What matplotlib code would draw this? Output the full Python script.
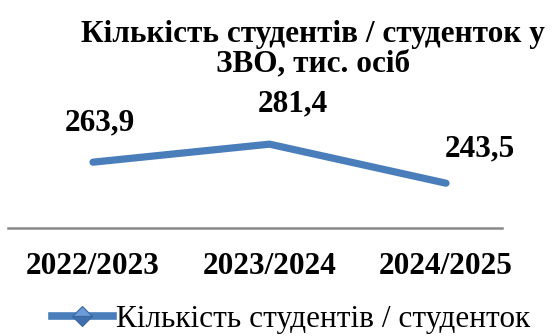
import matplotlib.pyplot as plt
from matplotlib.lines import Line2D

years = ["2022/2023", "2023/2024", "2024/2025"]
students = [263.9, 281.4, 243.5]
value_labels = ["263,9", "281,4", "243,5"]
series_name = "Кількість студентів / студенток"
title = "Кількість студентів / студенток у\nЗВО, тис. осіб"

plt.rcParams["font.family"] = ["Liberation Serif", "DejaVu Serif"]
blue = "#4a7ebb"
fs = 22.5

fig = plt.figure(figsize=(5.53, 3.36), dpi=100)
ax = fig.add_axes([8 / 553, 108 / 336, 494 / 553, 128 / 336])

x = list(range(len(years)))
ax.plot(x, students, color=blue, linewidth=5.2, solid_capstyle="round",
        solid_joinstyle="round")

# value labels above the points
offsets = [(7, 39), (23, 40), (34, 34)]
for xi, v, lab, off in zip(x, students, value_labels, offsets):
    ax.annotate(lab, (xi, v), xytext=off, textcoords="offset pixels",
                ha="center", va="center", fontsize=fs, fontweight="bold")

ax.set_xlim(-85 / 176.5, 2 + 56 / 176.5)
ax.set_ylim(200, 200 + 128 / 1.03)
ax.set_xticks(x)
ax.set_xticklabels(years, fontsize=fs, fontweight="bold")
ax.tick_params(axis="x", length=0, pad=17)
ax.set_yticks([])
for side in ["top", "right", "left"]:
    ax.spines[side].set_visible(False)
ax.spines["bottom"].set_color("#898989")
ax.spines["bottom"].set_linewidth(1.8)

fig.text(313 / 553, 1 - 49 / 336, title, ha="center", va="center",
         fontsize=fs, fontweight="bold", linespacing=1.02)

# legend entry: thick line with a shaded diamond
handle = Line2D([], [], color=blue, linewidth=5.5, marker="D", markersize=10.5,
                fillstyle="top", markerfacecolor="#6a9bd8",
                markerfacecoloralt="#3f70ad", markeredgecolor="#3a66a0",
                markeredgewidth=0.8)
fig.legend([handle], [series_name], loc="center left",
           bbox_to_anchor=(52 / 553, 1 - 319 / 336), frameon=False,
           fontsize=fs, handlelength=1.95, handletextpad=0.1,
           borderaxespad=0, borderpad=0)

fig.savefig("out.png", dpi=100)
plt.close(fig)
